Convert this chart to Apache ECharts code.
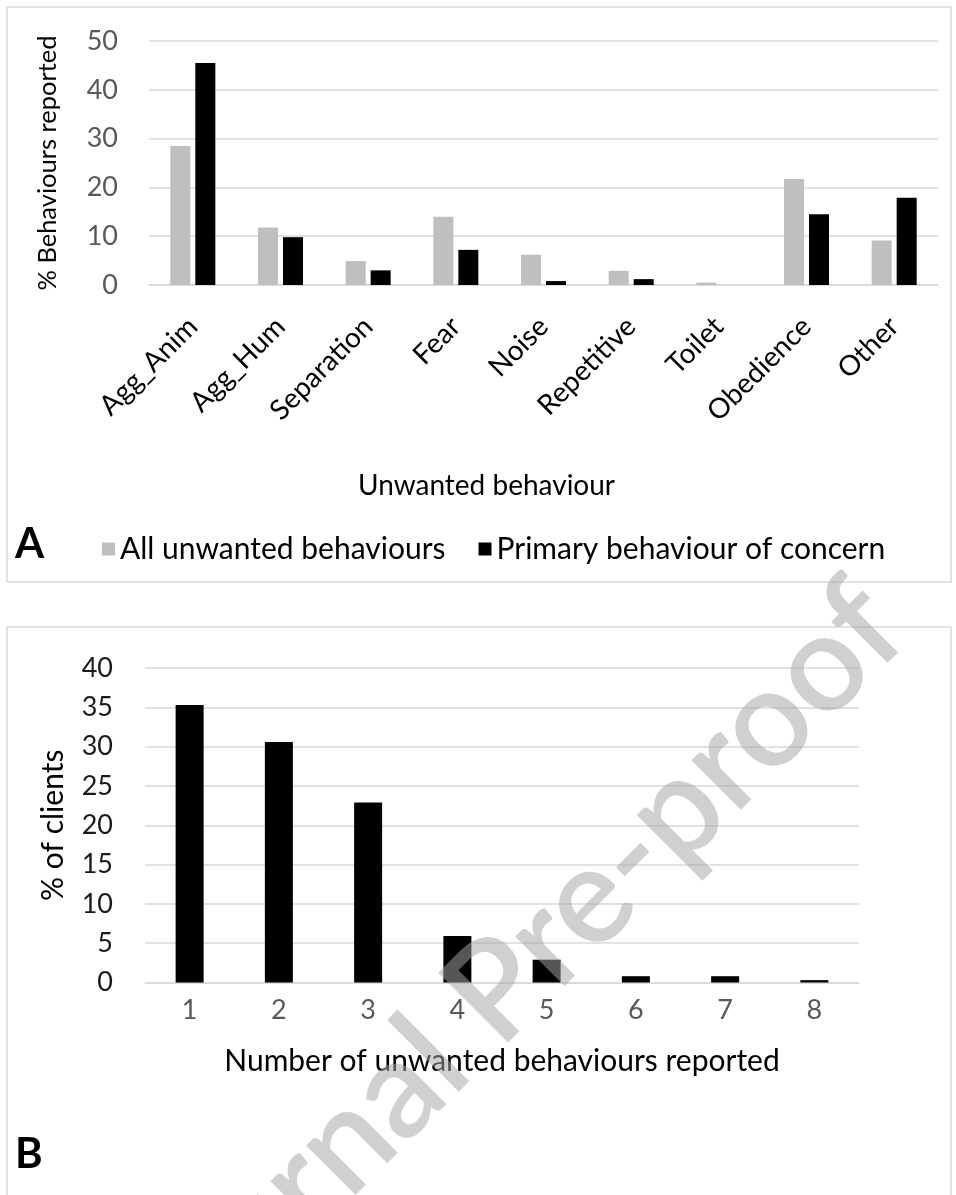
<!DOCTYPE html>
<html>
<head>
<meta charset="utf-8">
<script src="https://cdn.jsdelivr.net/npm/echarts@6/dist/echarts.min.js"></script>
<style>
  html, body { margin: 0; padding: 0; background: #fff; }
  #chart { width: 956px; height: 1195px; }
</style>
</head>
<body>
<div id="chart"></div>
<script>
// ---- data ----
const categoriesA = ['Agg_Anim', 'Agg_Hum', 'Separation', 'Fear', 'Noise', 'Repetitive', 'Toilet', 'Obedience', 'Other'];
const allUnwanted = [28.5, 11.8, 4.9, 14.0, 6.2, 2.9, 0.5, 21.7, 9.1];
const primaryConcern = [45.5, 9.8, 3.0, 7.2, 0.8, 1.2, 0, 14.5, 17.9];
const categoriesB = ['1', '2', '3', '4', '5', '6', '7', '8'];
const clientsPct = [35.3, 30.6, 22.9, 5.9, 2.9, 0.8, 0.8, 0.3];
const seriesNamesA = ['All unwanted behaviours', 'Primary behaviour of concern'];

const FONT = 'Lato';
const GRID_COLOR = '#d9d9d9';

const chart = echarts.init(document.getElementById('chart'), null, { renderer: 'canvas' });

const option = {
  animation: false,
  backgroundColor: '#ffffff',
  textStyle: { fontFamily: FONT },
  legend: {
    data: seriesNamesA,
    left: 97,
    top: 529,
    itemWidth: 13,
    itemHeight: 13,
    itemGap: 33,
    icon: 'rect',
    textStyle: { fontFamily: FONT, fontSize: 30, color: '#000' }
  },
  grid: [
    { left: 149, right: 18, top: 41, height: 244 },
    { left: 145, right: 97, top: 668, height: 314.5 }
  ],
  xAxis: [
    {
      type: 'category', gridIndex: 0, data: categoriesA,
      axisLine: { show: true, lineStyle: { color: GRID_COLOR, width: 1.5 } },
      axisTick: { show: false },
      axisLabel: { rotate: 45, interval: 0, margin: 37, color: '#000', fontFamily: FONT, fontSize: 28 },
      name: 'Unwanted behaviour',
      nameLocation: 'middle',
      nameGap: 187,
      nameTextStyle: { fontFamily: FONT, fontSize: 28, color: '#000', padding: [0, 114, 0, 0] }
    },
    {
      type: 'category', gridIndex: 1, data: categoriesB,
      axisLine: { show: true, lineStyle: { color: GRID_COLOR, width: 1.5 } },
      axisTick: { show: false },
      axisLabel: { interval: 0, margin: 14, color: '#595959', fontFamily: FONT, fontSize: 27 },
      name: 'Number of unwanted behaviours reported',
      nameLocation: 'middle',
      nameGap: 64,
      nameTextStyle: { fontFamily: FONT, fontSize: 30, color: '#000' }
    }
  ],
  yAxis: [
    {
      type: 'value', gridIndex: 0, min: 0, max: 50, interval: 10,
      axisLine: { show: false }, axisTick: { show: false },
      splitLine: { lineStyle: { color: GRID_COLOR, width: 1.5 } },
      axisLabel: { margin: 31, color: '#595959', fontFamily: FONT, fontSize: 27 },
      name: '% Behaviours reported',
      nameLocation: 'middle',
      nameRotate: 90,
      nameGap: 88,
      nameTextStyle: { fontFamily: FONT, fontSize: 25.5, color: '#000' }
    },
    {
      type: 'value', gridIndex: 1, min: 0, max: 40, interval: 5,
      axisLine: { show: false }, axisTick: { show: false },
      splitLine: { lineStyle: { color: GRID_COLOR, width: 1.5 } },
      axisLabel: { margin: 32, color: '#1a1a1a', fontFamily: FONT, fontSize: 27 },
      name: '% of clients',
      nameLocation: 'middle',
      nameRotate: 90,
      nameGap: 77,
      nameTextStyle: { fontFamily: FONT, fontSize: 30, color: '#000' }
    }
  ],
  series: [
    {
      name: seriesNamesA[0], type: 'bar', xAxisIndex: 0, yAxisIndex: 0,
      data: allUnwanted, barWidth: 20, barGap: '25%',
      itemStyle: { color: '#bfbfbf' }
    },
    {
      name: seriesNamesA[1], type: 'bar', xAxisIndex: 0, yAxisIndex: 0,
      data: primaryConcern, barWidth: 20, barGap: '25%',
      itemStyle: { color: '#000000' }
    },
    {
      name: 'clients', type: 'bar', xAxisIndex: 1, yAxisIndex: 1,
      data: clientsPct, barWidth: 28,
      itemStyle: { color: '#000000' }
    }
  ],
  graphic: [
    {
      type: 'rect', z: -10, silent: true,
      shape: { x: 7, y: 7, width: 944, height: 575 },
      style: { fill: null, stroke: GRID_COLOR, lineWidth: 1.5 }
    },
    {
      type: 'rect', z: -10, silent: true,
      shape: { x: 7, y: 627, width: 944, height: 600 },
      style: { fill: null, stroke: GRID_COLOR, lineWidth: 1.5 }
    },
    {
      type: 'text', left: 15, top: 523,
      style: { text: 'A', font: 'bold 42px ' + FONT, fill: '#000' }
    },
    {
      type: 'text', left: 15, top: 1133,
      style: { text: 'B', font: 'bold 42px ' + FONT, fill: '#000' }
    },
    {
      type: 'text', x: 507, y: 981, rotation: Math.PI / 4, z: 100, silent: true,
      style: {
        text: 'Journal Pre-proof',
        font: '600 137px Lato',
        fill: 'rgba(164,164,164,0.52)',
        align: 'center', verticalAlign: 'middle'
      }
    }
  ]
};

chart.setOption(option);
</script>
</body>
</html>
